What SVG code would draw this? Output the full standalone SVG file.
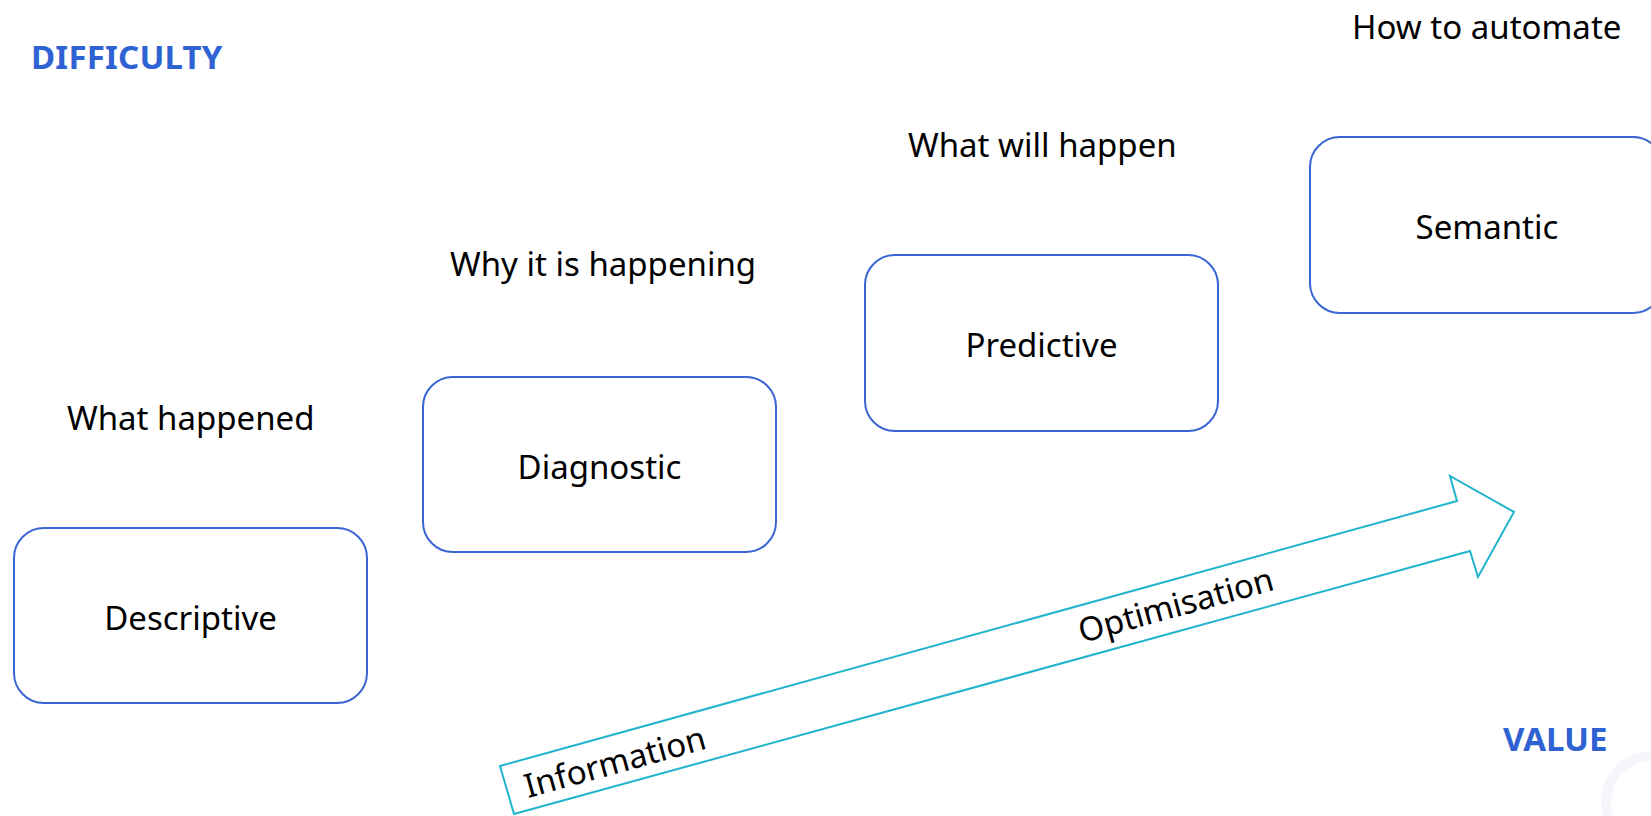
<svg xmlns="http://www.w3.org/2000/svg" width="1651" height="816" viewBox="0 0 1651 816">
  <style>
    .box { fill: #FFFFFF; stroke: #3A66D4; stroke-width: 2; }
    .lbl { font-family: "Noto Sans", "Open Sans", sans-serif; font-size: 33px; fill: #000000; }
    .mid { text-anchor: middle; }
    .axis { font-family: "Noto Sans", "Open Sans", sans-serif; font-size: 33px; font-weight: bold; fill: #2F62D3; }
    .arrow { fill: #FFFFFF; stroke: #1FB3CC; stroke-width: 2; stroke-linejoin: miter; }
  </style>
  <rect width="1651" height="816" fill="#FFFFFF"/>
  <circle cx="1652" cy="802" r="46" fill="none" stroke="#F5F5FC" stroke-width="10"/>

  <text class="axis" x="31" y="69" letter-spacing="0.2">DIFFICULTY</text>
  <text class="axis" x="1503" y="751">VALUE</text>

  <text class="lbl" x="67" y="430">What happened</text>
  <text class="lbl" x="450" y="276">Why it is happening</text>
  <text class="lbl" x="908" y="157">What will happen</text>
  <text class="lbl" x="1352" y="39">How to automate</text>

  <g id="connectors">
    <polygon class="arrow" points="500,766 1457,501 1450,476 1514,512 1478,577 1470,551 514,814"/>
    <text class="lbl" transform="translate(528,798) rotate(-15.4)">Information</text>
    <text class="lbl" transform="translate(1082,643) rotate(-15.4)">Optimisation</text>
  </g>

  <g id="descriptive">
    <rect class="box" x="14" y="528" width="353" height="175" rx="30"/>
    <text class="lbl mid" x="190.5" y="630">Descriptive</text>
  </g>
  <g id="diagnostic">
    <rect class="box" x="423" y="377" width="353" height="175" rx="30"/>
    <text class="lbl mid" x="599.5" y="479">Diagnostic</text>
  </g>
  <g id="predictive">
    <rect class="box" x="865" y="255" width="353" height="176" rx="30"/>
    <text class="lbl mid" x="1041.5" y="357">Predictive</text>
  </g>
  <g id="semantic">
    <rect class="box" x="1310" y="137" width="353" height="176" rx="30"/>
    <text class="lbl mid" x="1487" y="239">Semantic</text>
  </g>
</svg>
